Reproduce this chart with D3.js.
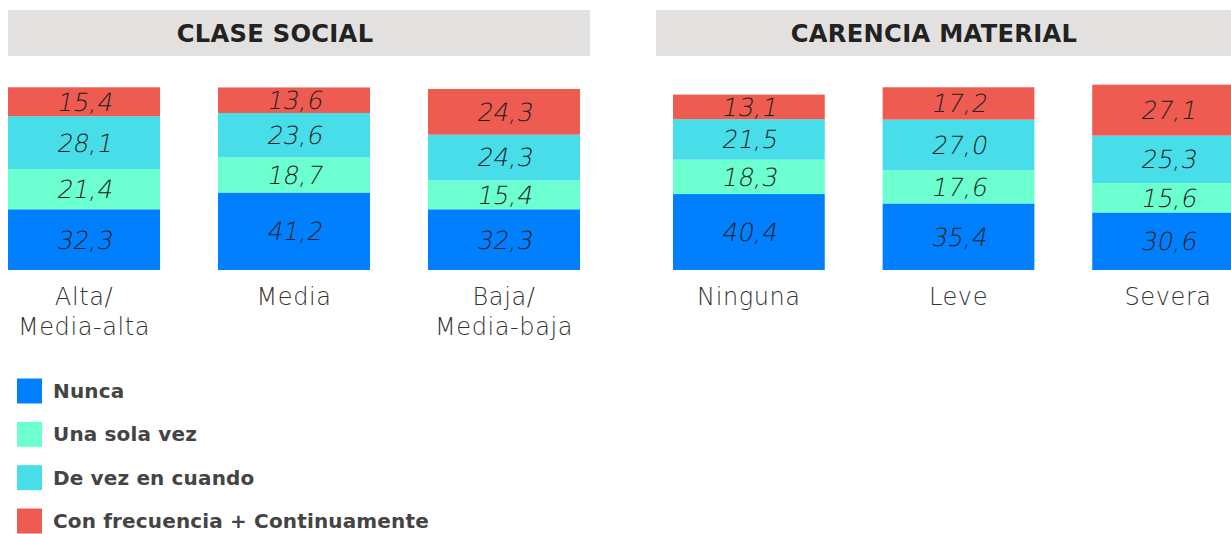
<!DOCTYPE html>
<html><head><meta charset="utf-8">
<script src="https://cdn.jsdelivr.net/npm/d3@7"></script>
<style>body{margin:0;background:#fff}svg{display:block}</style>
</head><body>
<svg id="c" width="1231" height="534"></svg>
<script>
const panels = ["CLASE SOCIAL", "CARENCIA MATERIAL"];
const categoriesSocial = [["Alta/", "Media-alta"], ["Media"], ["Baja/", "Media-baja"]];
const categoriesCarencia = [["Ninguna"], ["Leve"], ["Severa"]];
const seriesNames = ["Nunca", "Una sola vez", "De vez en cuando", "Con frecuencia + Continuamente"];
const nuncaSocial = [32.3, 41.2, 32.3];
const unaSocial = [21.4, 18.7, 15.4];
const deVezSocial = [28.1, 23.6, 24.3];
const conFrecSocial = [15.4, 13.6, 24.3];
const nuncaCarencia = [40.4, 35.4, 30.6];
const unaCarencia = [18.3, 17.6, 15.6];
const deVezCarencia = [21.5, 27.0, 25.3];
const conFrecCarencia = [13.1, 17.2, 27.1];
const colors = ["#0080FF", "#6CFFD0", "#47DEEA", "#EE5B51"];

const FONT = "'DejaVu Sans', sans-serif";
const svg = d3.select("#c");
const y = d3.scaleLinear().domain([0, 100]).range([270, 82]);

const panelDefs = [
  {title: panels[0], cats: categoriesSocial, vals: [nuncaSocial, unaSocial, deVezSocial, conFrecSocial],
   box: [8, 590], titleX: 275, range: [8, 580]},
  {title: panels[1], cats: categoriesCarencia, vals: [nuncaCarencia, unaCarencia, deVezCarencia, conFrecCarencia],
   box: [656, 1240], titleX: 934, range: [673, 1244]}
];

panelDefs.forEach(p => {
  const g = svg.append("g");
  g.append("rect").attr("x", p.box[0]).attr("y", 10).attr("width", p.box[1] - p.box[0]).attr("height", 46).attr("fill", "#E2E1DF");
  g.append("text").attr("x", p.titleX).attr("y", 42).attr("text-anchor", "middle")
    .attr("font-family", FONT).attr("font-weight", 700).attr("font-size", 24.2).attr("fill", "#222")
    .attr("letter-spacing", 0.3).text(p.title);

  const names = p.cats.map(c => c.join(" "));
  const x = d3.scaleBand().domain(names).range(p.range).paddingInner(0.276).paddingOuter(0);
  const rows = names.map((n, i) => {
    const r = {name: n};
    seriesNames.forEach((s, k) => r[s] = p.vals[k][i]);
    return r;
  });
  const stacked = d3.stack().keys(seriesNames)(rows);
  stacked.forEach((layer, k) => {
    const lg = g.append("g");
    lg.selectAll("rect").data(layer).join("rect")
      .attr("x", d => x(d.data.name)).attr("width", x.bandwidth())
      .attr("y", d => y(d[1])).attr("height", d => y(d[0]) - y(d[1]))
      .attr("fill", colors[k]);
    lg.selectAll("text").data(layer).join("text")
      .attr("transform", d => `translate(${x(d.data.name) + x.bandwidth() / 2},${(y(d[0]) + y(d[1])) / 2 + 9}) skewX(-11)`)
      .attr("text-anchor", "middle")
      .attr("font-family", FONT).attr("font-weight", 200)
      .attr("font-size", 25).attr("fill", "#222")
      .text(d => d3.format(".1f")(d[1] - d[0]).replace(".", ","));
  });
  p.cats.forEach((lines, i) => {
    const cx = x(names[i]) + x.bandwidth() / 2;
    const t = g.append("text").attr("x", cx).attr("y", 305)
      .attr("text-anchor", "middle").attr("font-family", FONT).attr("font-weight", 200)
      .attr("font-size", 24).attr("fill", "#333").attr("letter-spacing", 0.6);
    lines.forEach((l, j) => t.append("tspan").attr("x", cx).attr("dy", j ? 30 : 0).text(l));
  });
});

const legY = d3.scalePoint().domain(seriesNames).range([391, 521]);
const leg = svg.append("g");
seriesNames.forEach((s, k) => {
  leg.append("rect").attr("x", 17).attr("y", legY(s) - 12.5).attr("width", 25).attr("height", 25).attr("fill", colors[k]);
  leg.append("text").attr("x", 53).attr("y", legY(s) + 7).attr("font-family", FONT).attr("font-weight", 700)
    .attr("font-size", 20).attr("fill", "#444").attr("letter-spacing", 0.15).text(s);
});
</script>
</body></html>
